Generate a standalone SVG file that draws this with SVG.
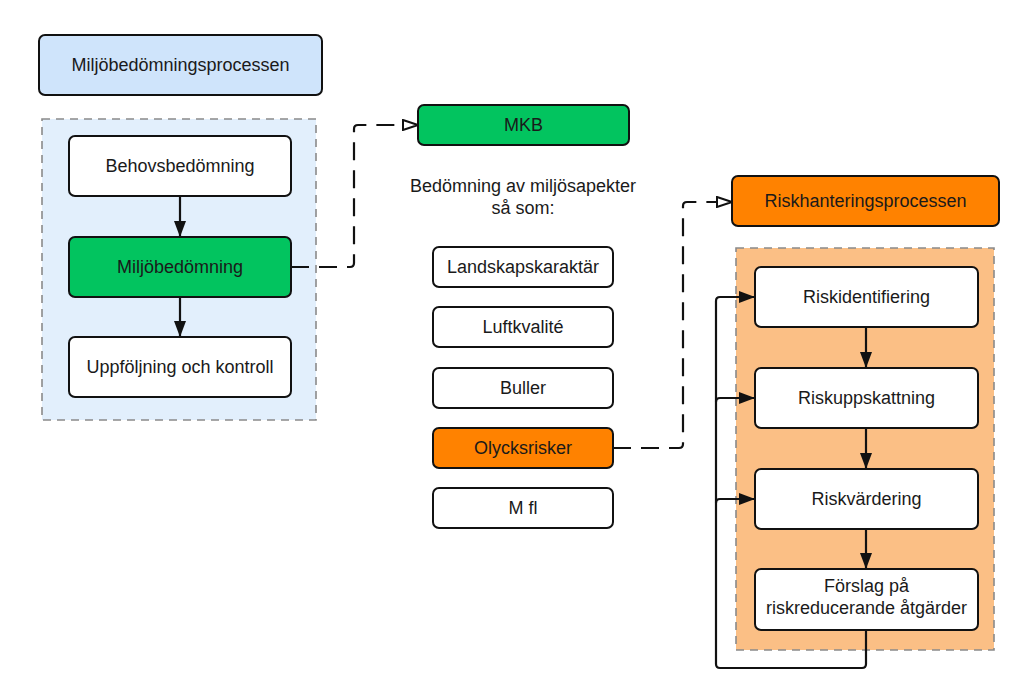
<svg xmlns="http://www.w3.org/2000/svg" width="1024" height="699" viewBox="0 0 1024 699">
<defs>
<style>
.box{stroke:#111;stroke-width:2;}
.white{fill:#fff;}
.green{fill:#02c45f;}
.orange{fill:#ff8200;}
.lblue{fill:#cfe4fb;}
.cont{stroke:#8a8a8a;stroke-width:1.6;stroke-dasharray:8,6;}
.t{font-family:"Liberation Sans",Arial,sans-serif;font-size:18px;fill:#1a1a1a;text-anchor:middle;}
.conn{fill:none;stroke:#111;stroke-width:2.2;}
.dash{fill:none;stroke:#111;stroke-width:2.2;stroke-dasharray:18,10;}
</style>
<marker id="ah" viewBox="0 0 16 12" refX="16" refY="6" markerWidth="16" markerHeight="12" markerUnits="userSpaceOnUse" orient="auto">
<path d="M0,0 L16,6 L0,12 Z" fill="#111"/>
</marker>
<marker id="oh" viewBox="0 0 17 12" refX="16" refY="6" markerWidth="17" markerHeight="12" markerUnits="userSpaceOnUse" orient="auto">
<path d="M1,1 L16,6 L1,11 Z" fill="#fff" stroke="#111" stroke-width="2"/>
</marker>
</defs>
<rect width="1024" height="699" fill="#fff"/>

<g id="container-left">
<rect x="42" y="119" width="274" height="301" fill="#e2effc" class="cont"/>
</g>
<g id="container-right">
<rect x="736" y="248" width="258" height="402" fill="#fbbf85" class="cont"/>
</g>

<g id="connectors">
<path class="conn" d="M180,196 V237" marker-end="url(#ah)"/>
<path class="conn" d="M180,297 V337" marker-end="url(#ah)"/>
<path class="dash" d="M291,267 H350 Q354,267 354,263 V129 Q354,125 358,125 H418" marker-end="url(#oh)"/>
<path class="dash" d="M613,448 H679 Q683,448 683,444 V206 Q683,202 687,202 H732" marker-end="url(#oh)"/>
<path class="conn" d="M866,327 V368" marker-end="url(#ah)"/>
<path class="conn" d="M866,428 V469" marker-end="url(#ah)"/>
<path class="conn" d="M866,528 V569" marker-end="url(#ah)"/>
<path class="conn" d="M866,630 V664 Q866,668 862,668 H720 Q716,668 716,664 V301 Q716,297 720,297 H755" marker-end="url(#ah)"/>
<path class="conn" d="M716,402 Q716,398 720,398 H755" marker-end="url(#ah)"/>
<path class="conn" d="M716,503 Q716,499 720,499 H755" marker-end="url(#ah)"/>
</g>

<g id="n-miljobedomningsprocessen">
<rect x="39" y="35" width="283" height="60" rx="6" class="box lblue"/>
<text x="180.5" y="71" class="t">Miljöbedömningsprocessen</text>
</g>
<g id="n-behovsbedomning">
<rect x="69" y="136" width="222" height="60" rx="6" class="box white"/>
<text x="180" y="172" class="t">Behovsbedömning</text>
</g>
<g id="n-miljobedomning">
<rect x="69" y="237" width="222" height="60" rx="6" class="box green"/>
<text x="180" y="273" class="t">Miljöbedömning</text>
</g>
<g id="n-uppfoljning">
<rect x="69" y="337" width="222" height="60" rx="6" class="box white"/>
<text x="180" y="373" class="t">Uppföljning och kontroll</text>
</g>

<g id="n-mkb">
<rect x="418" y="105" width="211" height="40" rx="6" class="box green"/>
<text x="523.5" y="131" class="t">MKB</text>
</g>
<g id="n-bedomning-text">
<text x="523" y="192" class="t">Bedömning av miljösapekter</text>
<text x="523" y="214" class="t">så som:</text>
</g>
<g id="n-landskap">
<rect x="433" y="247" width="180" height="40" rx="6" class="box white"/>
<text x="523" y="273" class="t">Landskapskaraktär</text>
</g>
<g id="n-luft">
<rect x="433" y="307" width="180" height="40" rx="6" class="box white"/>
<text x="523" y="333" class="t">Luftkvalité</text>
</g>
<g id="n-buller">
<rect x="433" y="368" width="180" height="40" rx="6" class="box white"/>
<text x="523" y="394" class="t">Buller</text>
</g>
<g id="n-olycksrisker">
<rect x="433" y="428" width="180" height="40" rx="6" class="box orange"/>
<text x="523" y="454" class="t">Olycksrisker</text>
</g>
<g id="n-mfl">
<rect x="433" y="488" width="180" height="40" rx="6" class="box white"/>
<text x="523" y="514" class="t">M fl</text>
</g>

<g id="n-riskhantering">
<rect x="732" y="176" width="267" height="50" rx="6" class="box orange"/>
<text x="865.5" y="207" class="t">Riskhanteringsprocessen</text>
</g>
<g id="n-riskidentifiering">
<rect x="755" y="267" width="223" height="60" rx="6" class="box white"/>
<text x="866.5" y="303" class="t">Riskidentifiering</text>
</g>
<g id="n-riskuppskattning">
<rect x="755" y="368" width="223" height="60" rx="6" class="box white"/>
<text x="866.5" y="404" class="t">Riskuppskattning</text>
</g>
<g id="n-riskvardering">
<rect x="755" y="469" width="223" height="60" rx="6" class="box white"/>
<text x="866.5" y="505" class="t">Riskvärdering</text>
</g>
<g id="n-forslag">
<rect x="755" y="569" width="223" height="61" rx="6" class="box white"/>
<text x="866.5" y="592" class="t">Förslag på</text>
<text x="866.5" y="614" class="t">riskreducerande åtgärder</text>
</g>
</svg>
